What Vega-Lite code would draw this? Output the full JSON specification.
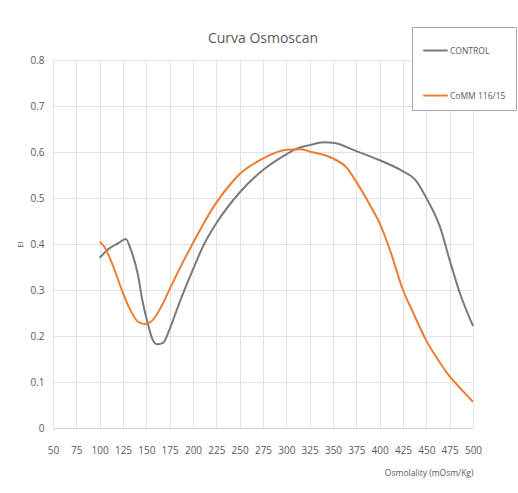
{
  "$schema": "https://vega.github.io/schema/vega-lite/v6.json",
  "width": 420,
  "height": 368,
  "autosize": "none",
  "padding": {"left": 53, "top": 60, "right": 45, "bottom": 65},
  "background": "white",
  "title": {"text": "Curva Osmoscan", "fontSize": 14, "font": "Open Sans", "fontWeight": "normal", "color": "#595959", "offset": -19, "anchor": "middle"},
  "config": {
    "view": {"stroke": null},
    "font": "Open Sans"
  },
  "data": {"values": [
    {"x":100,"y":0.370,"s":"CONTROL"},
    {"x":110,"y":0.390,"s":"CONTROL"},
    {"x":120,"y":0.402,"s":"CONTROL"},
    {"x":128,"y":0.411,"s":"CONTROL"},
    {"x":133,"y":0.390,"s":"CONTROL"},
    {"x":141,"y":0.333,"s":"CONTROL"},
    {"x":146,"y":0.275,"s":"CONTROL"},
    {"x":152,"y":0.224,"s":"CONTROL"},
    {"x":157,"y":0.191,"s":"CONTROL"},
    {"x":162,"y":0.182,"s":"CONTROL"},
    {"x":168,"y":0.185,"s":"CONTROL"},
    {"x":175,"y":0.215,"s":"CONTROL"},
    {"x":185,"y":0.270,"s":"CONTROL"},
    {"x":200,"y":0.345,"s":"CONTROL"},
    {"x":212,"y":0.400,"s":"CONTROL"},
    {"x":225,"y":0.445,"s":"CONTROL"},
    {"x":250,"y":0.512,"s":"CONTROL"},
    {"x":275,"y":0.561,"s":"CONTROL"},
    {"x":300,"y":0.595,"s":"CONTROL"},
    {"x":312,"y":0.608,"s":"CONTROL"},
    {"x":325,"y":0.615,"s":"CONTROL"},
    {"x":340,"y":0.621,"s":"CONTROL"},
    {"x":350,"y":0.620,"s":"CONTROL"},
    {"x":375,"y":0.602,"s":"CONTROL"},
    {"x":400,"y":0.582,"s":"CONTROL"},
    {"x":425,"y":0.558,"s":"CONTROL"},
    {"x":438,"y":0.540,"s":"CONTROL"},
    {"x":450,"y":0.500,"s":"CONTROL"},
    {"x":465,"y":0.435,"s":"CONTROL"},
    {"x":475,"y":0.365,"s":"CONTROL"},
    {"x":486,"y":0.293,"s":"CONTROL"},
    {"x":500,"y":0.222,"s":"CONTROL"},
    {"x":100,"y":0.405,"s":"CoMM 116/15"},
    {"x":105,"y":0.394,"s":"CoMM 116/15"},
    {"x":114,"y":0.354,"s":"CoMM 116/15"},
    {"x":123,"y":0.304,"s":"CoMM 116/15"},
    {"x":132,"y":0.260,"s":"CoMM 116/15"},
    {"x":141,"y":0.231,"s":"CoMM 116/15"},
    {"x":148,"y":0.226,"s":"CoMM 116/15"},
    {"x":157,"y":0.235,"s":"CoMM 116/15"},
    {"x":166,"y":0.264,"s":"CoMM 116/15"},
    {"x":175,"y":0.302,"s":"CoMM 116/15"},
    {"x":187,"y":0.352,"s":"CoMM 116/15"},
    {"x":200,"y":0.402,"s":"CoMM 116/15"},
    {"x":212,"y":0.447,"s":"CoMM 116/15"},
    {"x":225,"y":0.490,"s":"CoMM 116/15"},
    {"x":243,"y":0.537,"s":"CoMM 116/15"},
    {"x":250,"y":0.552,"s":"CoMM 116/15"},
    {"x":275,"y":0.586,"s":"CoMM 116/15"},
    {"x":300,"y":0.605,"s":"CoMM 116/15"},
    {"x":315,"y":0.606,"s":"CoMM 116/15"},
    {"x":325,"y":0.601,"s":"CoMM 116/15"},
    {"x":350,"y":0.586,"s":"CoMM 116/15"},
    {"x":365,"y":0.565,"s":"CoMM 116/15"},
    {"x":375,"y":0.535,"s":"CoMM 116/15"},
    {"x":390,"y":0.483,"s":"CoMM 116/15"},
    {"x":400,"y":0.445,"s":"CoMM 116/15"},
    {"x":411,"y":0.387,"s":"CoMM 116/15"},
    {"x":425,"y":0.300,"s":"CoMM 116/15"},
    {"x":436,"y":0.250,"s":"CoMM 116/15"},
    {"x":450,"y":0.190,"s":"CoMM 116/15"},
    {"x":462,"y":0.150,"s":"CoMM 116/15"},
    {"x":475,"y":0.112,"s":"CoMM 116/15"},
    {"x":488,"y":0.083,"s":"CoMM 116/15"},
    {"x":500,"y":0.057,"s":"CoMM 116/15"}
  ]},
  "mark": {"type": "line", "interpolate": "monotone", "strokeWidth": 2},
  "encoding": {
    "x": {
      "field": "x", "type": "quantitative",
      "scale": {"domain": [50, 500], "nice": false, "zero": false},
      "axis": {
        "values": [50,75,100,125,150,175,200,225,250,275,300,325,350,375,400,425,450,475,500],
        "title": "Osmolality (mOsm/Kg)", "titleAnchor": "end", "titleFontSize": 8.5, "titleFontWeight": "normal", "titleColor": "#595959", "titlePadding": 13,
        "labelFontSize": 10, "labelColor": "#595959", "labelPadding": 17,
        "ticks": false, "domain": true, "domainColor": "#d0d0d0",
        "grid": true, "gridColor": "#e3e3e3", "labelFlush": false
      }
    },
    "y": {
      "field": "y", "type": "quantitative",
      "scale": {"domain": [0, 0.8], "nice": false},
      "axis": {
        "values": [0,0.1,0.2,0.3,0.4,0.5,0.6,0.7,0.8],
        "format": "~g",
        "title": "EI", "titleFontSize": 8, "titleFontWeight": "normal", "titleColor": "#595959", "titlePadding": 5,
        "labelFontSize": 10, "labelColor": "#595959", "labelPadding": 9,
        "ticks": false, "domain": false,
        "grid": true, "gridColor": "#e3e3e3"
      }
    },
    "color": {
      "field": "s", "type": "nominal",
      "scale": {"domain": ["CONTROL", "CoMM 116/15"], "range": ["#7a7a7a", "#ED7D31"]},
      "legend": {
        "title": null, "orient": "none", "legendX": 359, "legendY": -33,
        "symbolType": "stroke", "symbolSize": 600, "symbolStrokeWidth": 2,
        "labelFontSize": 8.5, "labelColor": "#595959", "labelOffset": 1,
        "rowPadding": 27, "padding": 10,
        "strokeColor": "#a6a6a6", "fillColor": "white"
      }
    }
  }
}
